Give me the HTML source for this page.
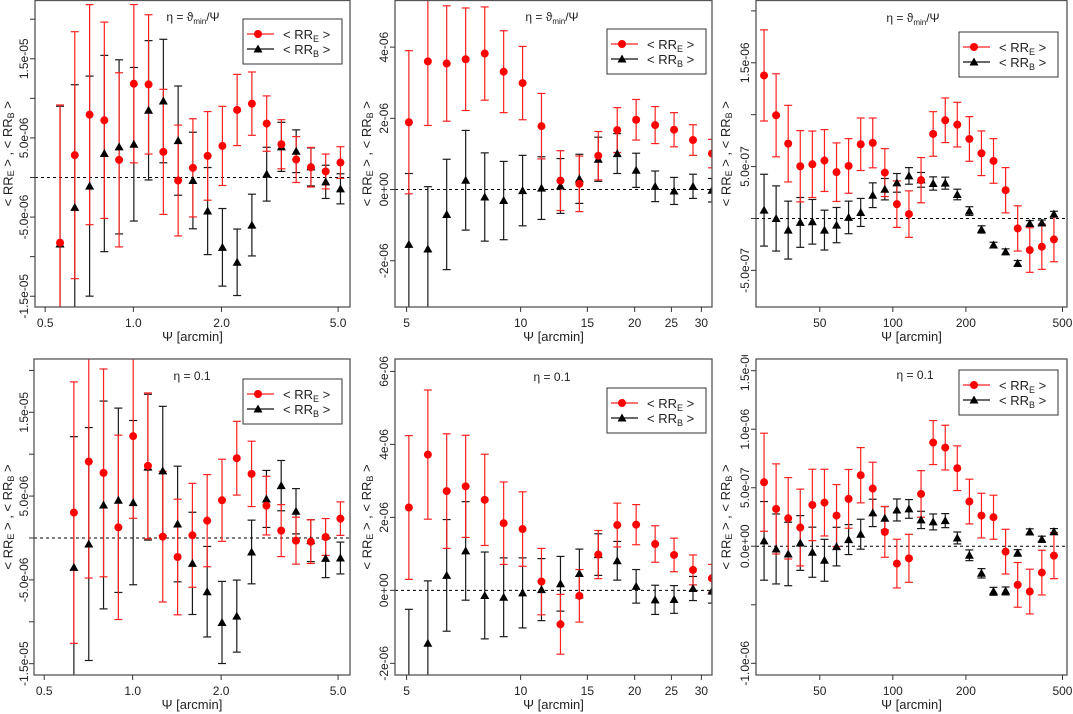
<!DOCTYPE html>
<html><head><meta charset="utf-8">
<style>
html,body{margin:0;padding:0;background:#fff;overflow:hidden;width:1073px;height:714px;}
svg{display:block;font-family:"Liberation Sans",sans-serif;}
</style></head>
<body>
<svg id="root" width="1073" height="714" viewBox="0 0 1073 714"></svg>
<script>
// ---------- DATA ----------
// Panel 1 (top-left), units 1e-5
const p1X=[0.562,0.631,0.709,0.796,0.894,1.004,1.127,1.266,1.422,1.597,1.793,2.014,2.261,2.539,2.852,3.202,3.596,4.039,4.535,5.093];
const p1E=[-0.824,0.282,0.794,0.723,0.223,1.185,1.176,0.324,-0.038,0.122,0.273,0.399,0.853,0.933,0.681,0.420,0.227,0.130,0.076,0.189];
const p1EErr=[1.74,1.56,1.39,1.24,1.10,1.00,0.88,0.79,0.70,0.62,0.56,0.50,0.45,0.40,0.35,0.31,0.29,0.25,0.22,0.20];
const p1B=[-0.840,-0.378,-0.109,0.303,0.387,0.420,0.849,0.966,0.466,-0.038,-0.424,-0.882,-1.071,-0.601,0.042,0.387,0.332,0.134,-0.055,-0.143];
const p1BErr=[1.74,1.55,1.39,1.24,1.10,0.97,0.88,0.78,0.69,0.61,0.55,0.49,0.42,0.39,0.34,0.31,0.27,0.24,0.21,0.19];
const p1YTicks=[-1.5,-1.0,-0.5,0,0.5,1.0,1.5,2.0];
const p1YLabels=["-1.5e-05","","-5.0e-06","","5.0e-06","","1.5e-05",""];
// Panel 2 (top-middle), units 1e-6
const p2X=[5.07,5.69,6.38,7.16,8.04,9.02,10.12,11.35,12.74,14.29,16.03,17.99,20.18,22.65,25.41,28.51,31.99];
const p2E=[1.89,3.60,3.54,3.66,3.82,3.31,2.99,1.78,0.25,0.16,0.95,1.67,1.96,1.81,1.68,1.39,1.01];
const p2EErr=[2.01,1.80,1.62,1.44,1.31,1.15,1.03,0.92,0.84,0.78,0.68,0.63,0.57,0.52,0.48,0.43,0.40];
const p2B=[-1.54,-1.67,-0.70,0.26,-0.21,-0.31,-0.03,0.04,0.10,0.30,0.85,1.01,0.54,0.09,-0.04,0.09,-0.02];
const p2BErr=[1.99,1.75,1.55,1.40,1.24,1.10,0.99,0.88,0.77,0.69,0.62,0.56,0.48,0.43,0.38,0.34,0.33];
const p2YTicks=[-2,0,2,4];
const p2YLabels=["-2e-06","0e+00","2e-06","4e-06"];
// Panel 3 (top-right), units 1e-7
const p3X=[29.47,33.04,37.05,41.55,46.60,52.27,58.61,65.72,73.72,82.64,92.68,103.9,116.5,130.7,146.6,164.4,184.3,206.7,231.8,259.9,291.5,326.9,366.6,411.1,461.1];
const p3E=[13.78,9.94,7.21,5.03,5.22,5.58,4.46,5.06,7.15,7.28,4.42,1.38,0.42,3.69,8.14,9.46,9.04,7.66,6.28,5.54,2.72,-0.96,-3.04,-2.72,-2.02];
const p3EErr=[4.39,4.0,3.69,3.43,3.2,2.98,2.82,2.63,2.53,2.40,2.31,2.24,2.24,2.18,2.15,2.15,2.15,2.15,2.15,2.15,2.18,2.18,2.15,2.18,2.15];
const p3B=[0.80,0,-1.12,-0.38,-0.32,-1.12,-0.64,0.10,0.58,2.24,2.82,3.43,4.10,3.72,3.37,3.40,2.31,0.71,-1.06,-2.56,-3.21,-4.33,-0.48,-0.42,0.42];
const p3BErr=[3.46,3.14,2.79,2.40,2.15,1.92,1.70,1.57,1.35,1.19,1.03,0.90,0.80,0.71,0.64,0.58,0.51,0.42,0.35,0.27,0.28,0.28,0.28,0.27,0.27];
const p3YTicks=[-5,0,5,10,15,20];
const p3YLabels=["-5.0e-07","","5.0e-07","","1.5e-06",""];
// Panel 4 (bottom-left), units 1e-5
const p4X=[0.631,0.709,0.796,0.894,1.004,1.127,1.266,1.422,1.597,1.793,2.014,2.261,2.539,2.852,3.202,3.596,4.039,4.535,5.093];
const p4E=[0.303,0.912,0.777,0.127,1.215,0.861,0.016,-0.227,0.032,0.207,0.450,0.952,0.765,0.386,0.088,-0.032,-0.044,0.012,0.231];
const p4EErr=[1.56,1.39,1.24,1.10,0.98,0.87,0.78,0.69,0.62,0.55,0.49,0.44,0.39,0.35,0.31,0.28,0.26,0.22,0.20];
const p4B=[-0.351,-0.072,0.394,0.450,0.422,0.845,0.801,0.167,-0.303,-0.641,-1.008,-0.932,-0.167,0.466,0.625,0.319,-0.032,-0.243,-0.239];
const p4BErr=[1.56,1.39,1.24,1.10,0.98,0.87,0.77,0.69,0.61,0.54,0.49,0.43,0.38,0.34,0.30,0.27,0.25,0.23,0.19];
const p4YTicks=[-1.5,-1.0,-0.5,0,0.5,1.0,1.5,2.0];
const p4YLabels=["-1.5e-05","","-5.0e-06","","5.0e-06","","1.5e-05",""];
// Panel 5 (bottom-middle), units 1e-6
const p5X=[5.07,5.69,6.38,7.16,8.04,9.02,10.12,11.35,12.74,14.29,16.03,17.99,20.18,22.65,25.41,28.51,31.99];
const p5E=[2.27,3.72,2.72,2.85,2.48,1.84,1.68,0.24,-0.93,-0.15,0.98,1.79,1.80,1.27,0.97,0.56,0.33];
const p5EErr=[1.97,1.77,1.57,1.40,1.25,1.13,1.02,0.91,0.82,0.72,0.66,0.60,0.55,0.50,0.46,0.41,0.38];
const p5B=[-2.5,-1.45,0.41,1.08,-0.14,-0.19,-0.07,0.02,0.18,0.46,0.98,0.81,0.11,-0.26,-0.25,0.05,-0.02];
const p5BErr=[1.98,1.71,1.53,1.35,1.19,1.08,0.96,0.85,0.75,0.67,0.57,0.53,0.46,0.40,0.38,0.33,0.33];
const p5YTicks=[-2,0,2,4,6];
const p5YLabels=["-2e-06","0e+00","2e-06","4e-06","6e-06"];
// Panel 6 (bottom-right), units 1e-7
const p6X=[29.47,33.04,37.05,41.55,46.60,52.27,58.61,65.72,73.72,82.64,92.68,103.9,116.5,130.7,146.6,164.4,184.3,206.7,231.8,259.9,291.5,326.9,366.6,411.1,461.1];
const p6E=[5.47,3.19,2.39,1.60,3.53,3.73,2.62,4.05,6.07,4.93,1.23,-1.48,-1.03,4.47,8.86,8.43,6.67,3.82,2.62,2.48,-0.46,-3.30,-3.87,-2.25,-0.80];
const p6EErr=[4.19,3.85,3.48,3.28,3.05,2.85,2.65,2.51,2.36,2.25,2.17,2.08,2.05,1.99,1.88,1.91,1.91,1.91,1.91,1.88,1.91,1.91,1.91,1.91,1.97];
const p6B=[0.46,-0.23,-0.66,0.28,-0.51,-1.20,-0.03,0.57,1.03,2.85,2.39,3.10,3.19,2.25,2.08,2.19,0.71,-0.77,-2.31,-3.85,-3.82,-0.57,1.23,0.60,1.25];
const p6BErr=[3.36,2.99,2.71,2.34,2.14,1.79,1.65,1.28,1.28,1.17,1.0,0.94,0.80,0.74,0.68,0.60,0.51,0.46,0.40,0.34,0.34,0.28,0.26,0.26,0.26];
const p6YTicks=[-10,-5,0,5,10,15];
const p6YLabels=["-1.0e-06","","0.0e+00","5.0e-07","1.0e-06","1.5e-06"];

const xTicksA=[0.5,1,2,5], xLabelsA=["0.5","1.0","2.0","5.0"];
const xTicksB=[5,10,15,20,25,30], xLabelsB=["5","10","15","20","25","30"];
const xTicksC=[50,100,200,500], xLabelsC=["50","100","200","500"];

// ---------- DRAW ----------
const NS="http://www.w3.org/2000/svg";
const root=document.getElementById('root');
function mk(tag,attrs,parent){const e=document.createElementNS(NS,tag);for(const k in attrs)e.setAttribute(k,attrs[k]);parent.appendChild(e);return e;}

const panels=[
 {id:'p1',reg:[0,0,357,355],box:[35,0.5,350,307],xl:[0.4616,5.49],yl:[-1.636,2.236],xt:xTicksA,xtl:xLabelsA,yt:p1YTicks,ytl:p1YLabels,X:p1X,E:p1E,EE:p1EErr,B:p1B,BE:p1BErr,ann:'t',tickX:25,ylabX:9,leg:[243,19],annX:193,annY:21},
 {id:'p2',reg:[357,0,357,355],box:[395,0.5,712,307],xl:[4.66,32.0],yl:[-3.30,5.31],xt:xTicksB,xtl:xLabelsB,yt:p2YTicks,ytl:p2YLabels,X:p2X,E:p2E,EE:p2EErr,B:p2B,BE:p2BErr,ann:'t',tickX:385,ylabX:368,leg:[607,29],annX:552,annY:21},
 {id:'p3',reg:[714,0,359,355],box:[756,0.5,1067,307],xl:[27.3,521.9],yl:[-8.53,21.0],xt:xTicksC,xtl:xLabelsC,yt:p3YTicks,ytl:p3YLabels,X:p3X,E:p3E,EE:p3EErr,B:p3B,BE:p3BErr,ann:'t',tickX:746,ylabX:727,leg:[959,32],annX:913,annY:22},
 {id:'p4',reg:[0,355,357,359],box:[34,359,350,675],xl:[0.4616,5.49],yl:[-1.635,2.136],xt:xTicksA,xtl:xLabelsA,yt:p4YTicks,ytl:p4YLabels,X:p4X,E:p4E,EE:p4EErr,B:p4B,BE:p4BErr,ann:'b',tickX:25,ylabX:9,leg:[243,379],annX:192,annY:380},
 {id:'p5',reg:[357,355,357,359],box:[395,359,712,675],xl:[4.66,32.0],yl:[-2.32,6.34],xt:xTicksB,xtl:xLabelsB,yt:p5YTicks,ytl:p5YLabels,X:p5X,E:p5E,EE:p5EErr,B:p5B,BE:p5BErr,ann:'b',tickX:385,ylabX:368,leg:[607,388],annX:552,annY:381},
 {id:'p6',reg:[714,355,359,359],box:[756,359,1067,675],xl:[27.3,521.9],yl:[-11.0,16.0],xt:xTicksC,xtl:xLabelsC,yt:p6YTicks,ytl:p6YLabels,X:p6X,E:p6E,EE:p6EErr,B:p6B,BE:p6BErr,ann:'b',tickX:746,ylabX:727,leg:[959,370],annX:915,annY:379}
];

panels.forEach(p=>{
 const [rx,ry,rw,rh]=p.reg;
 const sv=mk('svg',{x:rx,y:ry,width:rw,height:rh,viewBox:`${rx} ${ry} ${rw} ${rh}`,overflow:'hidden'},root);
 
 
 const [x0,y0,x1,y1]=p.box;
 const lx0=Math.log10(p.xl[0]),lx1=Math.log10(p.xl[1]);
 const sx=v=>x0+(Math.log10(v)-lx0)/(lx1-lx0)*(x1-x0);
 const sy=v=>y1-(v-p.yl[0])/(p.yl[1]-p.yl[0])*(y1-y0);
 const cid='clip-'+p.id;
 const cp=mk('clipPath',{id:cid},sv);mk('rect',{x:x0,y:y0,width:x1-x0,height:y1-y0},cp);
 const zl=mk('line',{x1:x0,x2:x1,y1:sy(0),y2:sy(0),stroke:'#000','stroke-width':1,'stroke-dasharray':'3,3'},sv);
 
 
 const dg=mk('g',{'clip-path':`url(#${cid})`},sv);
 
 
 function bars(xs,vs,es,col,name){
  xs.forEach((xv,i)=>{
   const cx=sx(xv),top=sy(vs[i]+es[i]),bot=sy(vs[i]-es[i]);
   const g=mk('g',{stroke:col,'stroke-width':1.2},dg);
   
   
   mk('line',{x1:cx,x2:cx,y1:top,y2:bot},g);
   mk('line',{x1:cx-4,x2:cx+4,y1:top,y2:top},g);
   mk('line',{x1:cx-4,x2:cx+4,y1:bot,y2:bot},g);
  });
 }
 bars(p.X,p.B,p.BE,'#1a1a1a','rrb');
 bars(p.X,p.E,p.EE,'#ff2020','rre');
 p.X.forEach((xv,i)=>{
  const cx=sx(xv),cy=sy(p.B[i]);
  const t=mk('polygon',{points:`${cx},${cy-4.5} ${cx-4.5},${cy+3.5} ${cx+4.5},${cy+3.5}`,fill:'#000'},dg);
  
  
 });
 p.X.forEach((xv,i)=>{
  const c=mk('circle',{cx:sx(xv),cy:sy(p.E[i]),r:4,fill:'#ff0000'},dg);
  
  
 });
 const bx=mk('rect',{x:x0,y:y0,width:x1-x0,height:y1-y0,fill:'none',stroke:'#555','stroke-width':1.3},sv);
 
 
 p.xt.forEach((t,i)=>{
  const X=sx(t);
  mk('line',{x1:X,x2:X,y1:y1,y2:y1+5,stroke:'#333'},sv);
  const tx=mk('text',{x:X,y:y1+20,'font-size':12,'text-anchor':'middle',fill:'#222'},sv);
  tx.textContent=p.xtl[i];
  
  
 });
 p.yt.forEach((t,i)=>{
  const Y=sy(t);
  mk('line',{x1:x0-5,x2:x0,y1:Y,y2:Y,stroke:'#333'},sv);
  if(p.ytl[i]){
   const tx=mk('text',{x:p.tickX,y:Y,'font-size':12,'text-anchor':'middle',fill:'#222',transform:`rotate(-90 ${p.tickX} ${Y})`,'dominant-baseline':'middle'},sv);
   tx.textContent=p.ytl[i];
   
   
  }
 });
 const xlab=mk('text',{x:(x0+x1)/2,y:y1+34,'font-size':13,'text-anchor':'middle',fill:'#222'},sv);
 xlab.textContent='Ψ [arcmin]';
 
 
 const ymid=(y0+y1)/2;
 const ylab=mk('text',{x:p.ylabX,y:ymid,'font-size':13,'text-anchor':'middle',fill:'#222','dominant-baseline':'middle',transform:`rotate(-90 ${p.ylabX} ${ymid})`},sv);
 ylab.innerHTML='&lt; RR<tspan font-size="9" dy="3">E</tspan><tspan dy="-3"> &gt; , &lt; RR</tspan><tspan font-size="9" dy="3">B</tspan><tspan dy="-3"> &gt;</tspan>';
 
 
 const an=mk('text',{x:p.annX,y:p.annY,'font-size':12,'text-anchor':'middle',fill:'#222'},sv);
 if(p.ann==='t') an.innerHTML='η = ϑ<tspan font-size="8" dy="3">min</tspan><tspan dy="-3">/Ψ</tspan>';
 else an.textContent='η = 0.1';
 
 
 const [lx,ly]=p.leg;
 const lg=mk('g',{},sv);
 
 
 mk('rect',{x:lx,y:ly,width:99,height:45,fill:'#fff',stroke:'#333','stroke-width':1},lg);
 const r1=ly+15,r2=ly+30;
 const e1=mk('g',{},lg);
 
 
 mk('line',{x1:lx+4,x2:lx+31,y1:r1,y2:r1,stroke:'#ff2020','stroke-width':1.2},e1);
 mk('circle',{cx:lx+15,cy:r1,r:4,fill:'#f00'},e1);
 const t1=mk('text',{x:lx+40,y:r1+5,'font-size':13,fill:'#222'},e1);
 t1.innerHTML='&lt; RR<tspan font-size="9" dy="3">E</tspan><tspan dy="-3"> &gt;</tspan>';
 const e2=mk('g',{},lg);
 
 
 mk('line',{x1:lx+4,x2:lx+31,y1:r2,y2:r2,stroke:'#111','stroke-width':1.2},e2);
 mk('polygon',{points:`${lx+15},${r2-4.5} ${lx+10.5},${r2+3.5} ${lx+19.5},${r2+3.5}`,fill:'#000'},e2);
 const t2=mk('text',{x:lx+40,y:r2+5,'font-size':13,fill:'#222'},e2);
 t2.innerHTML='&lt; RR<tspan font-size="9" dy="3">B</tspan><tspan dy="-3"> &gt;</tspan>';
});
</script>
</body></html>
